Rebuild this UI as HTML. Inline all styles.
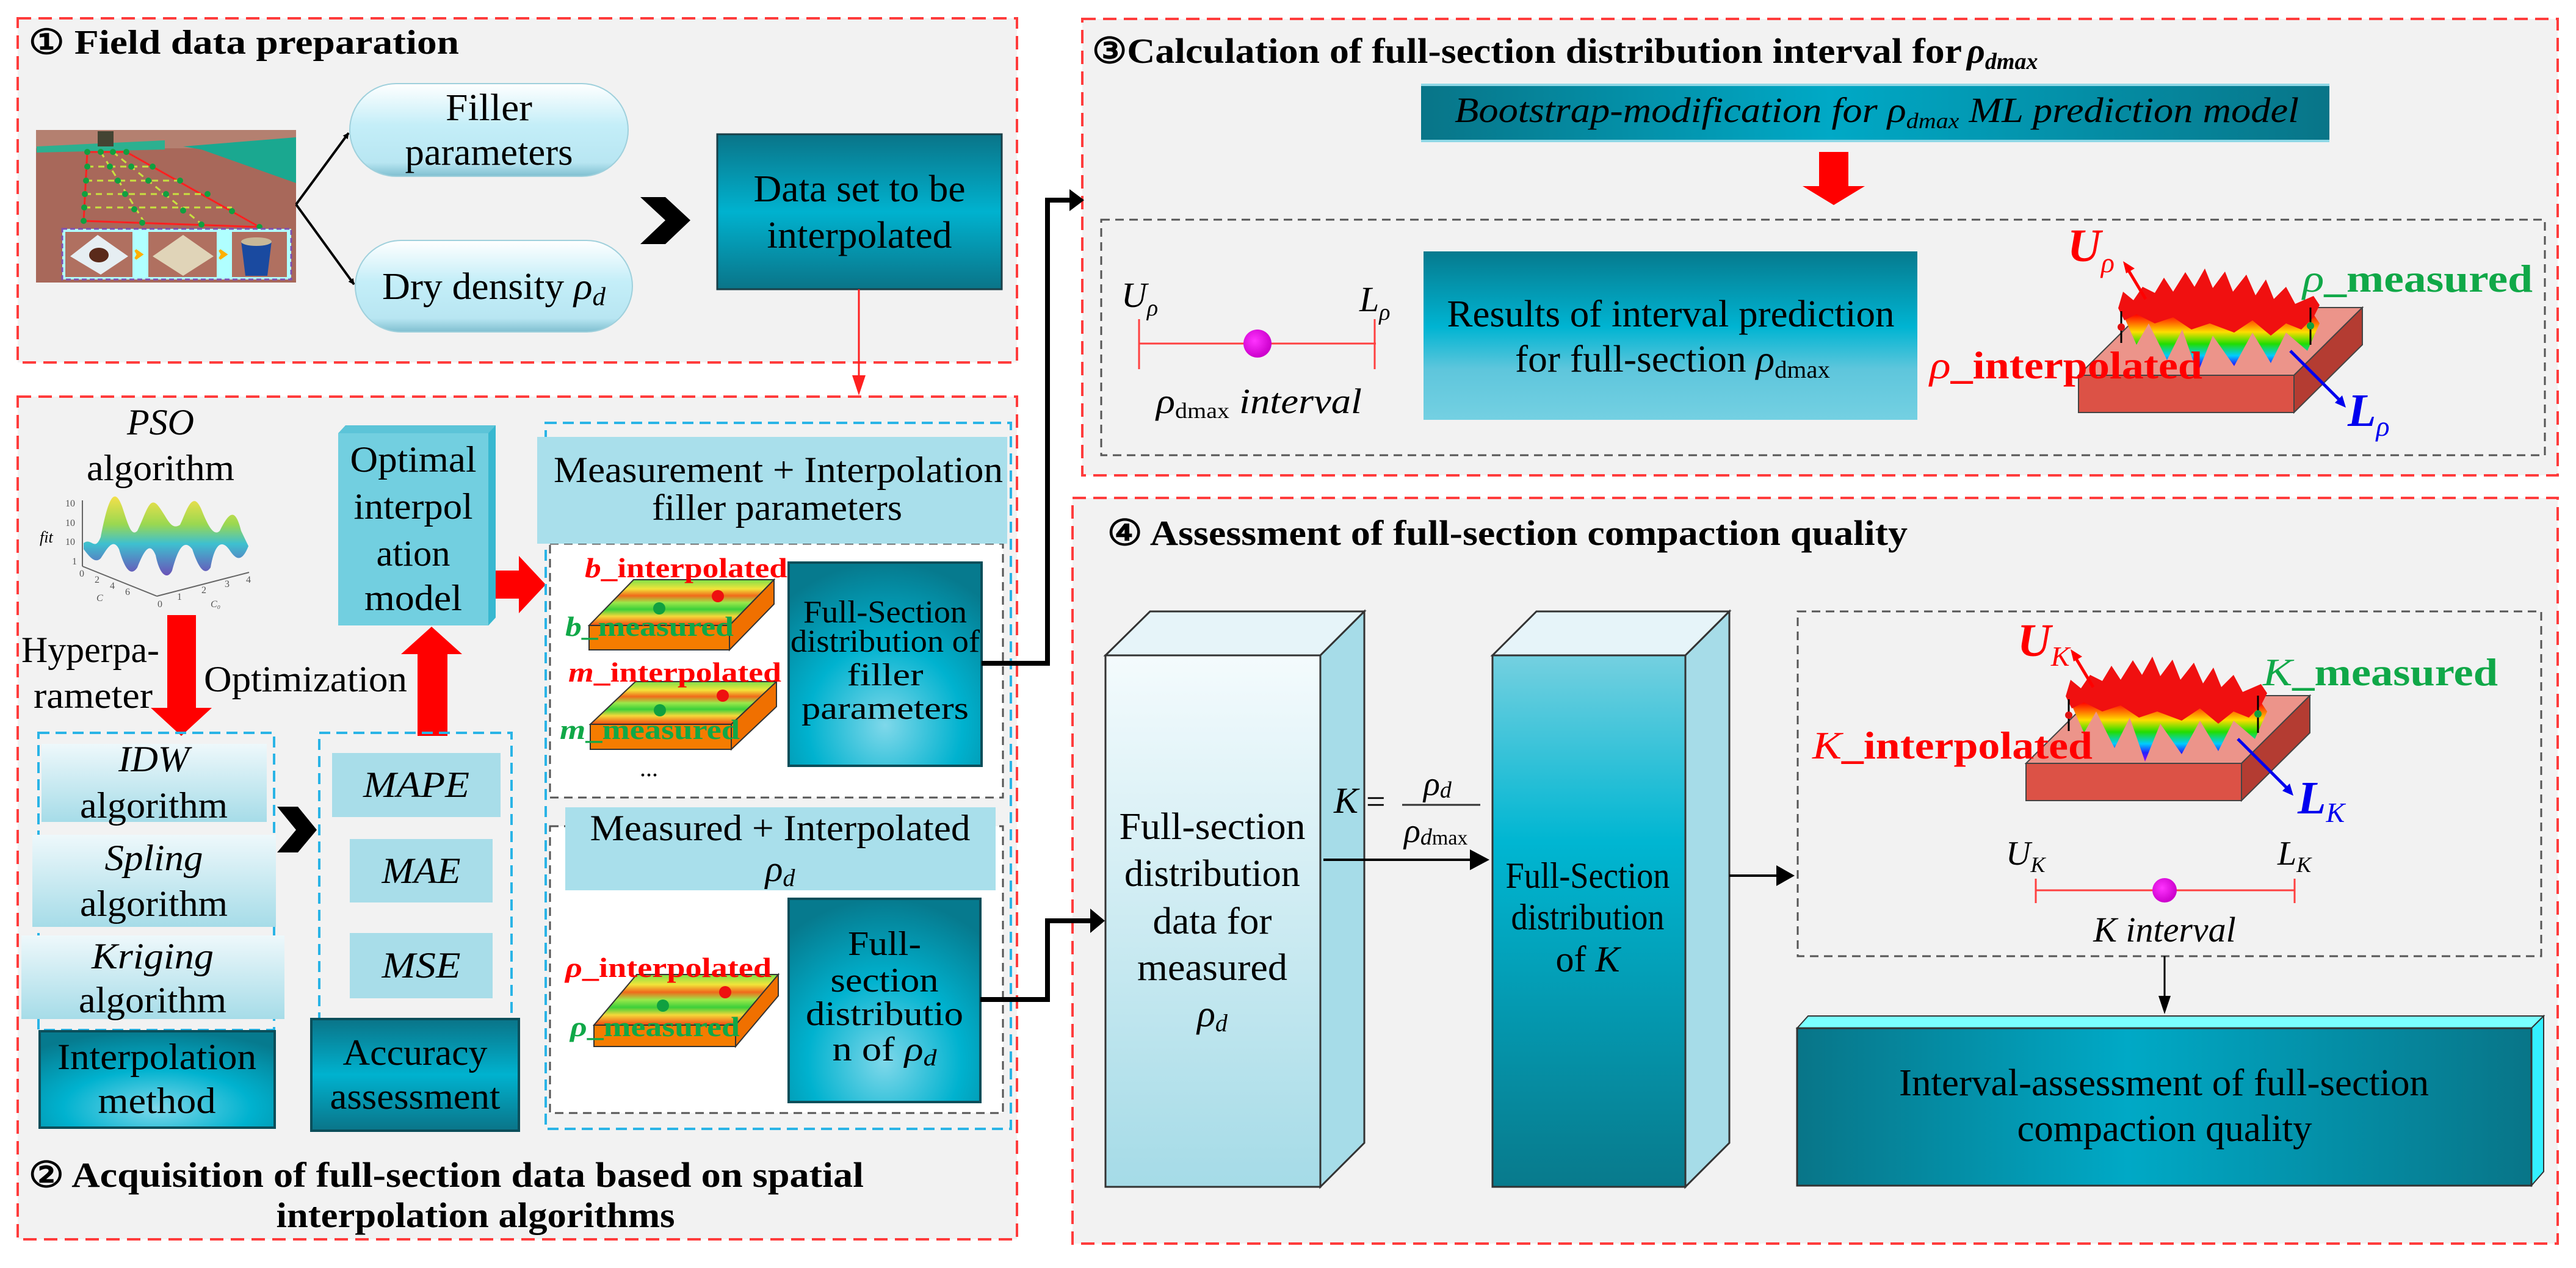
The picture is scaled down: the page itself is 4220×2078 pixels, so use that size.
<!DOCTYPE html>
<html><head><meta charset="utf-8"><style>
html,body{margin:0;padding:0;background:#fff}
svg{display:block}
svg text{font-family:"Liberation Serif","Times New Roman",serif}
</style></head><body>
<svg width="4220" height="2078" viewBox="0 0 4220 2078" xmlns="http://www.w3.org/2000/svg" font-family="Liberation Serif, serif">
<defs>
<linearGradient id="tealV" x1="0" y1="0" x2="0" y2="1"><stop offset="0" stop-color="#0a7488"/><stop offset="0.5" stop-color="#00b2cf"/><stop offset="1" stop-color="#0a7488"/></linearGradient>
<linearGradient id="tealH" x1="0" y1="0" x2="1" y2="0"><stop offset="0" stop-color="#087588"/><stop offset="0.45" stop-color="#00a9c6"/><stop offset="1" stop-color="#087588"/></linearGradient>
<linearGradient id="tealRes" x1="0" y1="0" x2="0" y2="1"><stop offset="0" stop-color="#067a8e"/><stop offset="0.45" stop-color="#00b4d2"/><stop offset="0.7" stop-color="#5ec6dc"/><stop offset="1" stop-color="#74d0e2"/></linearGradient>
<radialGradient id="bevel" cx="0.5" cy="0.8" r="0.8"><stop offset="0" stop-color="#7fd8ea"/><stop offset="0.5" stop-color="#00b2cf"/><stop offset="1" stop-color="#067a8e"/></radialGradient>
<linearGradient id="pill" x1="0" y1="0" x2="0" y2="1"><stop offset="0" stop-color="#ffffff"/><stop offset="0.45" stop-color="#c4eef8"/><stop offset="0.85" stop-color="#b8e6f2"/><stop offset="1" stop-color="#7fbfd0"/></linearGradient>
<linearGradient id="lightV" x1="0" y1="0" x2="0" y2="1"><stop offset="0" stop-color="#eef8fb"/><stop offset="1" stop-color="#a6dce8"/></linearGradient>
<linearGradient id="lightBox" x1="0" y1="0" x2="0" y2="1"><stop offset="0" stop-color="#f4fbfd"/><stop offset="1" stop-color="#a5dbe7"/></linearGradient>
<linearGradient id="boxB" x1="0" y1="0" x2="0" y2="1"><stop offset="0" stop-color="#74d0e0"/><stop offset="0.35" stop-color="#00b6d2"/><stop offset="1" stop-color="#087a8c"/></linearGradient>
<linearGradient id="heat" x1="0" y1="0" x2="0" y2="1"><stop offset="0" stop-color="#7de04a"/><stop offset="0.2" stop-color="#f2e43a"/><stop offset="0.35" stop-color="#f06a1a"/><stop offset="0.5" stop-color="#9be84a"/><stop offset="0.65" stop-color="#3ccf3a"/><stop offset="0.8" stop-color="#f5d83a"/><stop offset="1" stop-color="#f04a10"/></linearGradient>
<linearGradient id="wave" x1="0" y1="0" x2="0" y2="1"><stop offset="0" stop-color="#f4e04a"/><stop offset="0.35" stop-color="#9ad850"/><stop offset="0.6" stop-color="#3ec0d0"/><stop offset="1" stop-color="#6a52b8"/></linearGradient>
<linearGradient id="rainbow" x1="0" y1="0" x2="0" y2="1"><stop offset="0" stop-color="#ff0000"/><stop offset="0.3" stop-color="#ffdd00"/><stop offset="0.5" stop-color="#22dd00"/><stop offset="0.7" stop-color="#00ccff"/><stop offset="0.85" stop-color="#2222ff"/><stop offset="1" stop-color="#9900ee"/></linearGradient>
<radialGradient id="dot" cx="0.4" cy="0.4" r="0.6"><stop offset="0" stop-color="#ff33ff"/><stop offset="1" stop-color="#cc00cc"/></radialGradient>
<marker id="ah" markerWidth="10" markerHeight="10" refX="9" refY="5" orient="auto" markerUnits="userSpaceOnUse" viewBox="0 0 10 10"><path d="M0,0 L10,5 L0,10 z" fill="#000"/></marker>
<g id="surf">
  <polygon points="3405,615 3758,615 3870,504 3517,504" fill="#ec948a" stroke="#444" stroke-width="2"/>
  <polygon points="3405,615 3758,615 3758,676 3405,676" fill="#dc5246" stroke="#444" stroke-width="2"/>
  <polygon points="3758,615 3870,504 3870,565 3758,676" fill="#b43c32" stroke="#444" stroke-width="2"/>
  <polygon points="3480,520 3500,565 3520,530 3550,590 3575,540 3600,612 3625,550 3660,600 3690,545 3720,595 3745,545 3780,575 3800,530 3790,515 3490,515" fill="url(#rainbow)"/>
  <polygon points="3470,505 3478,478 3495,492 3510,470 3530,480 3545,455 3560,478 3580,446 3595,470 3612,440 3625,472 3645,445 3658,478 3680,450 3695,484 3712,458 3725,490 3745,470 3760,498 3790,485 3800,500 3790,520 3770,540 3745,530 3720,550 3690,525 3660,545 3620,530 3590,540 3560,520 3530,530 3500,515 3480,525" fill="#f01010"/>
  <line x1="3475" y1="510" x2="3475" y2="562" stroke="#000" stroke-width="3"/>
  <line x1="3785" y1="504" x2="3785" y2="565" stroke="#000" stroke-width="3"/>
  <circle cx="3475" cy="536" r="6" fill="#e01010"/>
  <circle cx="3785" cy="534" r="6" fill="#10a040"/>
</g>
</defs>

<rect width="4220" height="2078" fill="#fff"/>
<g fill="#f2f2f2" stroke="#ff3c3c" stroke-width="4" stroke-dasharray="22 12">
<rect x="29" y="30" width="1637" height="564"/>
<rect x="29" y="650" width="1637" height="1381"/>
<rect x="1773" y="31" width="2417" height="748"/>
<rect x="1757" y="816" width="2433" height="1222"/>
</g>

<!-- Panel 1 -->
<text x="47" y="88" font-size="56" font-weight="bold" textLength="705" lengthAdjust="spacingAndGlyphs">① Field data preparation</text>
<rect x="59" y="213" width="426" height="250" fill="#a8685a"/>
<rect x="59" y="213" width="426" height="30" fill="#b48070"/>
<polygon points="300,240 485,225 485,300 330,245" fill="#1aa890"/>
<polygon points="60,240 270,230 270,245 60,250" fill="#2cb090"/>
<rect x="160" y="215" width="26" height="25" fill="#443"/>
<polygon points="143,249 207,249 425,372 137,362" fill="none" stroke="#ff2020" stroke-width="3"/>
<g stroke="#c8e040" stroke-width="3" stroke-dasharray="10 8">
<line x1="143" y1="273" x2="250" y2="273"/><line x1="141" y1="296" x2="295" y2="296"/><line x1="139" y1="318" x2="340" y2="318"/><line x1="138" y1="340" x2="380" y2="340"/>
<line x1="165" y1="249" x2="235" y2="362"/><line x1="185" y1="249" x2="330" y2="367"/></g>
<g fill="#10a040">
<circle cx="143" cy="249" r="5"/><circle cx="165" cy="249" r="5"/><circle cx="185" cy="249" r="5"/><circle cx="207" cy="249" r="5"/>
<circle cx="143" cy="273" r="5"/><circle cx="180" cy="273" r="5"/><circle cx="215" cy="273" r="5"/><circle cx="250" cy="273" r="5"/>
<circle cx="141" cy="296" r="5"/><circle cx="193" cy="296" r="5"/><circle cx="243" cy="296" r="5"/><circle cx="295" cy="296" r="5"/>
<circle cx="139" cy="318" r="5"/><circle cx="205" cy="318" r="5"/><circle cx="272" cy="318" r="5"/><circle cx="340" cy="318" r="5"/>
<circle cx="138" cy="340" r="5"/><circle cx="220" cy="343" r="5"/><circle cx="300" cy="345" r="5"/><circle cx="380" cy="346" r="5"/>
<circle cx="137" cy="362" r="5"/><circle cx="233" cy="365" r="5"/><circle cx="330" cy="368" r="5"/><circle cx="425" cy="372" r="5"/></g>
<rect x="102" y="375" width="375" height="83" fill="#b0ffff" stroke="#8050b0" stroke-width="3" stroke-dasharray="8 5"/>
<rect x="107" y="380" width="110" height="74" fill="#b07060"/><polygon points="115,420 160,385 210,420 165,450" fill="#e6eef2"/><ellipse cx="162" cy="418" rx="16" ry="12" fill="#5a2a1a"/>
<rect x="243" y="380" width="112" height="74" fill="#b07060"/><polygon points="250,420 300,385 350,420 300,452" fill="#e0d4b8"/>
<rect x="380" y="380" width="90" height="74" fill="#b07060"/><path d="M395,395 L445,395 L438,452 L402,452 z" fill="#1a4aa0"/><ellipse cx="420" cy="396" rx="25" ry="7" fill="#c8b898"/>
<polygon points="222,410 232,417 222,424 226,417" fill="#ffb000" stroke="#ffb000" stroke-width="4"/>
<polygon points="360,410 370,417 360,424 364,417" fill="#ffb000" stroke="#ffb000" stroke-width="4"/>
<line x1="485" y1="335" x2="571" y2="218" stroke="#000" stroke-width="4" marker-end="url(#ah)"/>
<line x1="485" y1="335" x2="580" y2="466" stroke="#000" stroke-width="4" marker-end="url(#ah)"/>
<rect x="573" y="137" width="456" height="152" rx="76" fill="url(#pill)" stroke="#9fd0dc" stroke-width="2"/>
<text x="801" y="197" font-size="62" text-anchor="middle" textLength="142" lengthAdjust="spacingAndGlyphs">Filler</text>
<text x="801" y="270" font-size="62" text-anchor="middle" textLength="275" lengthAdjust="spacingAndGlyphs">parameters</text>
<rect x="582" y="394" width="454" height="150" rx="75" fill="url(#pill)" stroke="#9fd0dc" stroke-width="2"/>
<text x="626" y="490" font-size="62" textLength="366" lengthAdjust="spacingAndGlyphs">Dry density <tspan font-style="italic">ρ</tspan><tspan font-style="italic" font-size="42" dy="10">d</tspan></text>
<polygon points="1049,323 1090,323 1131,361 1090,400 1049,400 1090,361" fill="#000"/>
<rect x="1175" y="220" width="466" height="254" fill="url(#tealV)" stroke="#1a3f48" stroke-width="3"/>
<text x="1408" y="330" font-size="62" text-anchor="middle" textLength="347" lengthAdjust="spacingAndGlyphs">Data set to be</text>
<text x="1408" y="406" font-size="62" text-anchor="middle" textLength="303" lengthAdjust="spacingAndGlyphs">interpolated</text>
<line x1="1407" y1="474" x2="1407" y2="620" stroke="#ff2020" stroke-width="3"/>
<polygon points="1396,615 1418,615 1407,648" fill="#ff2020"/>

<!-- Panel 2 -->
<text x="263" y="712" font-size="60" font-style="italic" text-anchor="middle">PSO</text>
<text x="263" y="787" font-size="60" text-anchor="middle" textLength="242" lengthAdjust="spacingAndGlyphs">algorithm</text>
<path d="M137,890 C150,880 155,905 165,880 C175,830 185,790 200,830 C210,860 215,880 225,870 C240,840 245,810 260,830 C275,850 280,870 295,860 C305,840 315,800 330,835 C340,860 350,880 360,870 C375,840 385,830 395,870 L407,895 C395,925 385,915 375,900 C360,880 350,900 345,930 C335,945 325,930 315,900 C300,880 290,905 282,935 C275,950 262,945 255,910 C245,885 235,905 225,930 C215,945 205,935 195,900 C185,880 175,900 165,915 C155,925 145,910 137,900 Z" fill="url(#wave)"/>
<g stroke="#666" stroke-width="2" fill="none"><line x1="135" y1="820" x2="135" y2="928"/><line x1="135" y1="928" x2="257" y2="977"/><line x1="257" y1="977" x2="408" y2="938"/></g>
<text x="65" y="889" font-size="26" font-style="italic">fit</text>
<g font-size="16" fill="#555"><text x="107" y="830">10</text><text x="107" y="862">10</text><text x="107" y="893">10</text><text x="118" y="925">1</text><text x="130" y="945">0</text><text x="155" y="955">2</text><text x="180" y="965">4</text><text x="205" y="975">6</text><text x="158" y="985" font-style="italic">C</text><text x="258" y="995">0</text><text x="290" y="983">1</text><text x="330" y="972">2</text><text x="368" y="962">3</text><text x="403" y="955">4</text><text x="345" y="995" font-style="italic">C₀</text></g>
<polygon points="274,1008 321,1008 321,1160 347,1160 297,1206 247,1160 274,1160" fill="#ff0000"/>
<text x="35" y="1085" font-size="60" textLength="226" lengthAdjust="spacingAndGlyphs">Hyperpa-</text>
<text x="55" y="1160" font-size="60" textLength="195" lengthAdjust="spacingAndGlyphs">rameter</text>
<text x="334" y="1133" font-size="60" textLength="333" lengthAdjust="spacingAndGlyphs">Optimization</text>
<polygon points="684,1206 733,1206 733,1072 757,1072 707,1027 657,1072 684,1072" fill="#ff0000"/>
<polygon points="554,710 566,697 812,697 812,1012 800,1025" fill="#5cc4d8"/>
<rect x="554" y="710" width="246" height="315" fill="#72cfe0"/>
<polygon points="800,710 812,697 812,1012 800,1025" fill="#38b8d0"/>
<g font-size="60" text-anchor="middle">
<text x="677" y="773" textLength="207" lengthAdjust="spacingAndGlyphs">Optimal</text>
<text x="677" y="850" textLength="195" lengthAdjust="spacingAndGlyphs">interpol</text>
<text x="677" y="927" textLength="121" lengthAdjust="spacingAndGlyphs">ation</text>
<text x="677" y="1000" textLength="160" lengthAdjust="spacingAndGlyphs">model</text></g>
<polygon points="812,935 850,935 850,911 894,958 850,1005 850,981 812,981" fill="#ff0000"/>
<g fill="none" stroke="#2ab4e6" stroke-width="4" stroke-dasharray="18 10">
<rect x="63" y="1201" width="386" height="487"/>
<rect x="523" y="1201" width="315" height="469"/>
<rect x="894" y="693" width="762" height="1157"/>
</g>
<rect x="68" y="1219" width="369" height="128" fill="url(#lightV)"/>
<rect x="53" y="1368" width="399" height="151" fill="url(#lightV)"/>
<rect x="35" y="1533" width="431" height="137" fill="url(#lightV)"/>
<g font-size="60" text-anchor="middle">
<text x="252" y="1264" font-style="italic" textLength="116" lengthAdjust="spacingAndGlyphs">IDW</text>
<text x="252" y="1340" textLength="242" lengthAdjust="spacingAndGlyphs">algorithm</text>
<text x="252" y="1426" font-style="italic" textLength="161" lengthAdjust="spacingAndGlyphs">Spling</text>
<text x="252" y="1501" textLength="242" lengthAdjust="spacingAndGlyphs">algorithm</text>
<text x="250" y="1587" font-style="italic" textLength="200" lengthAdjust="spacingAndGlyphs">Kriging</text>
<text x="250" y="1659" textLength="242" lengthAdjust="spacingAndGlyphs">algorithm</text></g>
<rect x="65" y="1690" width="385" height="158" fill="url(#bevel)" stroke="#0b4e5a" stroke-width="4"/>
<text x="257" y="1752" font-size="60" text-anchor="middle" textLength="326" lengthAdjust="spacingAndGlyphs">Interpolation</text>
<text x="257" y="1824" font-size="60" text-anchor="middle" textLength="193" lengthAdjust="spacingAndGlyphs">method</text>
<polygon points="454,1322 488,1322 519,1360 488,1397 454,1397 485,1360" fill="#000"/>
<rect x="544" y="1234" width="276" height="105" fill="#a8dde9"/>
<rect x="573" y="1375" width="234" height="104" fill="#a8dde9"/>
<rect x="573" y="1529" width="234" height="107" fill="#a8dde9"/>
<g font-size="60" font-style="italic" text-anchor="middle">
<text x="682" y="1306" textLength="174" lengthAdjust="spacingAndGlyphs">MAPE</text>
<text x="690" y="1447" textLength="129" lengthAdjust="spacingAndGlyphs">MAE</text>
<text x="690" y="1602" textLength="129" lengthAdjust="spacingAndGlyphs">MSE</text></g>
<rect x="510" y="1670" width="340" height="183" fill="url(#tealV)" stroke="#0b4e5a" stroke-width="4"/>
<text x="680" y="1745" font-size="60" text-anchor="middle" textLength="237" lengthAdjust="spacingAndGlyphs">Accuracy</text>
<text x="680" y="1817" font-size="60" text-anchor="middle" textLength="279" lengthAdjust="spacingAndGlyphs">assessment</text>
<rect x="901" y="891" width="742" height="416" fill="#fff" stroke="#555" stroke-width="3" stroke-dasharray="14 9"/>
<rect x="901" y="1354" width="742" height="470" fill="#fff" stroke="#555" stroke-width="3" stroke-dasharray="14 9"/>
<rect x="880" y="716" width="770" height="175" fill="#a9dfeb"/>
<text x="1275" y="790" font-size="60" text-anchor="middle" textLength="736" lengthAdjust="spacingAndGlyphs">Measurement + Interpolation</text>
<text x="1273" y="852" font-size="60" text-anchor="middle" textLength="410" lengthAdjust="spacingAndGlyphs">filler parameters</text>
<rect x="926" y="1323" width="705" height="136" fill="#a9dfeb"/>
<text x="1278" y="1377" font-size="60" text-anchor="middle" textLength="623" lengthAdjust="spacingAndGlyphs">Measured + Interpolated</text>
<text x="1278" y="1444" font-size="60" font-style="italic" text-anchor="middle">ρ<tspan font-size="40" dy="8">d</tspan></text>
<g stroke="#333" stroke-width="2">
<polygon points="965,1025 1195,1025 1268,950 1038,950" fill="url(#heat)"/>
<rect x="965" y="1025" width="230" height="40" fill="#f57c00"/>
<polygon points="1195,1025 1268,950 1268,990 1195,1065" fill="#f07000"/>
<polygon points="967,1187 1198,1187 1272,1117 1041,1117" fill="url(#heat)"/>
<rect x="967" y="1187" width="231" height="41" fill="#f57c00"/>
<polygon points="1198,1187 1272,1117 1272,1158 1198,1228" fill="#f07000"/>
<polygon points="973,1680 1205,1680 1275,1597 1043,1597" fill="url(#heat)"/>
<rect x="973" y="1680" width="232" height="35" fill="#f57c00"/>
<polygon points="1205,1680 1275,1597 1275,1632 1205,1715" fill="#f07000"/>
</g>
<g><circle cx="1080" cy="997" r="10" fill="#10a040"/><circle cx="1176" cy="977" r="10" fill="#ee1010"/>
<circle cx="1081" cy="1164" r="10" fill="#10a040"/><circle cx="1184" cy="1140" r="10" fill="#ee1010"/>
<circle cx="1086" cy="1648" r="10" fill="#10a040"/><circle cx="1188" cy="1626" r="10" fill="#ee1010"/></g>
<g font-size="46" font-weight="bold">
<text x="958" y="946" fill="#ff0000" textLength="332" lengthAdjust="spacingAndGlyphs"><tspan font-style="italic">b</tspan>_interpolated</text>
<text x="926" y="1042" fill="#10a848" textLength="276" lengthAdjust="spacingAndGlyphs"><tspan font-style="italic">b</tspan>_measured</text>
<text x="931" y="1117" fill="#ff0000" textLength="349" lengthAdjust="spacingAndGlyphs"><tspan font-style="italic">m</tspan>_interpolated</text>
<text x="917" y="1211" fill="#10a848" textLength="295" lengthAdjust="spacingAndGlyphs"><tspan font-style="italic">m</tspan>_measured</text>
<text x="926" y="1601" fill="#ff0000" textLength="338" lengthAdjust="spacingAndGlyphs"><tspan font-style="italic">ρ</tspan>_interpolated</text>
<text x="934" y="1698" fill="#10a848" textLength="278" lengthAdjust="spacingAndGlyphs"><tspan font-style="italic">ρ</tspan>_measured</text></g>
<text x="1063" y="1272" font-size="40" text-anchor="middle">...</text>
<rect x="1292" y="922" width="316" height="333" fill="url(#bevel)" stroke="#0b4e5a" stroke-width="4"/>
<g font-size="52" text-anchor="middle">
<text x="1450" y="1020" textLength="268" lengthAdjust="spacingAndGlyphs">Full-Section</text>
<text x="1450" y="1068" textLength="310" lengthAdjust="spacingAndGlyphs">distribution of</text>
<text x="1450" y="1123" textLength="125" lengthAdjust="spacingAndGlyphs">filler</text>
<text x="1450" y="1178" textLength="274" lengthAdjust="spacingAndGlyphs">parameters</text></g>
<rect x="1292" y="1473" width="314" height="333" fill="url(#bevel)" stroke="#0b4e5a" stroke-width="4"/>
<g font-size="56" text-anchor="middle">
<text x="1449" y="1565" textLength="120" lengthAdjust="spacingAndGlyphs">Full-</text>
<text x="1449" y="1625" textLength="177" lengthAdjust="spacingAndGlyphs">section</text>
<text x="1449" y="1680" textLength="258" lengthAdjust="spacingAndGlyphs">distributio</text>
<text x="1449" y="1738" textLength="171" lengthAdjust="spacingAndGlyphs">n of <tspan font-style="italic">ρ</tspan><tspan font-style="italic" font-size="38" dy="8">d</tspan></text></g>
<text x="47" y="1945" font-size="58" font-weight="bold" textLength="1368" lengthAdjust="spacingAndGlyphs">② Acquisition of full-section data based on spatial</text>
<text x="779" y="2011" font-size="58" font-weight="bold" text-anchor="middle" textLength="653" lengthAdjust="spacingAndGlyphs">interpolation algorithms</text>

<polyline points="1608,1087 1716,1087 1716,328 1760,328" fill="none" stroke="#000" stroke-width="8"/>
<polygon points="1752,310 1776,328 1752,346" fill="#000"/>
<polyline points="1606,1638 1716,1638 1716,1509 1790,1509" fill="none" stroke="#000" stroke-width="8"/>
<polygon points="1786,1489 1810,1509 1786,1529" fill="#000"/>

<!-- Panel 3 -->
<text x="1789" y="103" font-size="58" font-weight="bold" textLength="1425" lengthAdjust="spacingAndGlyphs">③Calculation of full-section distribution interval for</text>
<text x="3222" y="103" font-size="58" font-weight="bold" font-style="italic">ρ<tspan font-size="38" dy="10">dmax</tspan></text>
<rect x="2328" y="137" width="1488" height="96" fill="url(#tealH)"/>
<rect x="2328" y="137" width="1488" height="4" fill="#8fd8e6"/>
<rect x="2328" y="229" width="1488" height="4" fill="#8fd8e6"/>
<text x="2383" y="200" font-size="58" font-style="italic" textLength="1383" lengthAdjust="spacingAndGlyphs">Bootstrap-modification for ρ<tspan font-size="36" dy="10">dmax</tspan><tspan dy="-10"> ML prediction model</tspan></text>
<polygon points="2980,249 3028,249 3028,305 3055,305 3004,336 2953,305 2980,305" fill="#ff0000"/>
<rect x="1804" y="360" width="2365" height="386" fill="none" stroke="#555" stroke-width="3" stroke-dasharray="14 9"/>
<line x1="1866" y1="563" x2="2254" y2="563" stroke="#ff4040" stroke-width="3"/>
<line x1="1866" y1="523" x2="1866" y2="605" stroke="#ff4040" stroke-width="3"/>
<line x1="2252" y1="523" x2="2252" y2="605" stroke="#ff4040" stroke-width="3"/>
<circle cx="2060" cy="563" r="23" fill="url(#dot)"/>
<text x="1837" y="503" font-size="58" font-style="italic">U<tspan font-size="38" dy="14">ρ</tspan></text>
<text x="2227" y="510" font-size="58" font-style="italic">L<tspan font-size="38" dy="14">ρ</tspan></text>
<text x="1894" y="677" font-size="58" font-style="italic" textLength="337" lengthAdjust="spacingAndGlyphs">ρ<tspan font-size="36" dy="8" font-style="normal">dmax</tspan><tspan dy="-8"> interval</tspan></text>
<rect x="2332" y="412" width="809" height="276" fill="url(#tealRes)"/>
<text x="2737" y="535" font-size="62" text-anchor="middle" textLength="733" lengthAdjust="spacingAndGlyphs">Results of interval prediction</text>
<text x="2740" y="609" font-size="62" text-anchor="middle" textLength="516" lengthAdjust="spacingAndGlyphs">for full-section <tspan font-style="italic">ρ</tspan><tspan font-size="40" dy="10">dmax</tspan></text>
<use href="#surf"/>
<line x1="3515" y1="490" x2="3485" y2="440" stroke="#ff0000" stroke-width="5"/>
<polygon points="3478,428 3497,440 3483,448" fill="#ff0000"/>
<line x1="3752" y1="575" x2="3835" y2="658" stroke="#0000ee" stroke-width="5"/>
<polygon points="3843,668 3825,660 3837,648" fill="#0000ee"/>
<text x="3387" y="428" font-size="76" font-weight="bold" font-style="italic" fill="#ff0000">U<tspan font-size="46" dy="18" font-weight="normal">ρ</tspan></text>
<text x="3772" y="478" font-size="64" font-weight="bold" fill="#10a848" textLength="377" lengthAdjust="spacingAndGlyphs"><tspan font-style="italic" font-weight="normal">ρ</tspan>_measured</text>
<text x="3161" y="620" font-size="64" font-weight="bold" fill="#ff0000" textLength="447" lengthAdjust="spacingAndGlyphs"><tspan font-style="italic" font-weight="normal">ρ</tspan>_interpolated</text>
<text x="3846" y="698" font-size="76" font-weight="bold" font-style="italic" fill="#0000ee">L<tspan font-size="46" dy="16" font-weight="normal">ρ</tspan></text>

<!-- Panel 4 -->
<text x="1814" y="893" font-size="58" font-weight="bold" textLength="1311" lengthAdjust="spacingAndGlyphs">④ Assessment of full-section compaction quality</text>
<polygon points="1811,1074 1884,1002 2235,1002 2163,1074" fill="#e6f4f9" stroke="#333" stroke-width="3"/>
<polygon points="2163,1074 2235,1002 2235,1873 2163,1945" fill="#a6dce8" stroke="#333" stroke-width="3"/>
<rect x="1811" y="1074" width="352" height="871" fill="url(#lightBox)" stroke="#333" stroke-width="3"/>
<g font-size="62" text-anchor="middle">
<text x="1986" y="1375" textLength="305" lengthAdjust="spacingAndGlyphs">Full-section</text>
<text x="1986" y="1452" textLength="288" lengthAdjust="spacingAndGlyphs">distribution</text>
<text x="1986" y="1530" textLength="195" lengthAdjust="spacingAndGlyphs">data for</text>
<text x="1986" y="1606" textLength="246" lengthAdjust="spacingAndGlyphs">measured</text>
<text x="1986" y="1682" font-style="italic">ρ<tspan font-size="40" dy="8">d</tspan></text></g>
<polygon points="2445,1074 2517,1002 2833,1002 2761,1074" fill="#e6f4f9" stroke="#333" stroke-width="3"/>
<polygon points="2761,1074 2833,1002 2833,1873 2761,1945" fill="#a6dce8" stroke="#333" stroke-width="3"/>
<rect x="2445" y="1074" width="316" height="871" fill="url(#boxB)" stroke="#333" stroke-width="3"/>
<g font-size="60" text-anchor="middle">
<text x="2601" y="1455" textLength="269" lengthAdjust="spacingAndGlyphs">Full-Section</text>
<text x="2601" y="1523" textLength="251" lengthAdjust="spacingAndGlyphs">distribution</text>
<text x="2601" y="1592">of <tspan font-style="italic">K</tspan></text></g>
<text x="2185" y="1332" font-size="60" font-style="italic">K</text>
<text x="2238" y="1332" font-size="56">=</text>
<line x1="2297" y1="1319" x2="2425" y2="1319" stroke="#333" stroke-width="3"/>
<text x="2332" y="1303" font-size="56" font-style="italic">ρ<tspan font-size="38" dy="4">d</tspan></text>
<text x="2300" y="1380" font-size="56" font-style="italic">ρ<tspan font-size="38" dy="4">d</tspan><tspan font-style="normal" font-size="34">max</tspan></text>
<line x1="2168" y1="1409" x2="2415" y2="1409" stroke="#000" stroke-width="4"/>
<polygon points="2408,1392 2440,1409 2408,1426" fill="#000"/>
<line x1="2833" y1="1435" x2="2915" y2="1435" stroke="#000" stroke-width="4"/>
<polygon points="2910,1418 2940,1435 2910,1452" fill="#000"/>
<rect x="2945" y="1002" width="1218" height="565" fill="none" stroke="#555" stroke-width="3" stroke-dasharray="14 9"/>
<use href="#surf" transform="translate(-86,636)"/>
<line x1="3429" y1="1126" x2="3399" y2="1076" stroke="#ff0000" stroke-width="5"/>
<polygon points="3392,1064 3411,1076 3397,1084" fill="#ff0000"/>
<line x1="3666" y1="1211" x2="3749" y2="1294" stroke="#0000ee" stroke-width="5"/>
<polygon points="3757,1304 3739,1296 3751,1284" fill="#0000ee"/>
<text x="3305" y="1075" font-size="76" font-weight="bold" font-style="italic" fill="#ff0000">U<tspan font-size="46" dy="16" font-weight="normal">K</tspan></text>
<text x="3707" y="1123" font-size="64" font-weight="bold" fill="#10a848" textLength="385" lengthAdjust="spacingAndGlyphs"><tspan font-style="italic" font-weight="normal">K</tspan>_measured</text>
<text x="2969" y="1243" font-size="64" font-weight="bold" fill="#ff0000" textLength="459" lengthAdjust="spacingAndGlyphs"><tspan font-style="italic" font-weight="normal">K</tspan>_interpolated</text>
<text x="3764" y="1333" font-size="76" font-weight="bold" font-style="italic" fill="#0000ee">L<tspan font-size="46" dy="14" font-weight="normal">K</tspan></text>
<line x1="3335" y1="1459" x2="3759" y2="1459" stroke="#ff4040" stroke-width="3"/>
<line x1="3335" y1="1440" x2="3335" y2="1480" stroke="#ff4040" stroke-width="3"/>
<line x1="3759" y1="1440" x2="3759" y2="1480" stroke="#ff4040" stroke-width="3"/>
<circle cx="3546" cy="1459" r="20" fill="url(#dot)"/>
<text x="3286" y="1417" font-size="56" font-style="italic">U<tspan font-size="36" dy="12">K</tspan></text>
<text x="3731" y="1417" font-size="56" font-style="italic">L<tspan font-size="36" dy="12">K</tspan></text>
<text x="3546" y="1543" font-size="58" font-style="italic" text-anchor="middle">K interval</text>
<line x1="3546" y1="1567" x2="3546" y2="1640" stroke="#000" stroke-width="3"/>
<polygon points="3536,1632 3556,1632 3546,1662" fill="#000"/>
<polygon points="2944,1685 2962,1665 4167,1665 4147,1685" fill="#7affff" stroke="#333" stroke-width="2"/>
<polygon points="4147,1685 4167,1665 4167,1920 4147,1943" fill="#33f0ff" stroke="#333" stroke-width="2"/>
<rect x="2944" y="1685" width="1203" height="258" fill="url(#tealH)" stroke="#333" stroke-width="3"/>
<text x="3545" y="1795" font-size="62" text-anchor="middle" textLength="868" lengthAdjust="spacingAndGlyphs">Interval-assessment of full-section</text>
<text x="3546" y="1870" font-size="62" text-anchor="middle" textLength="483" lengthAdjust="spacingAndGlyphs">compaction quality</text>
</svg>
</body></html>
